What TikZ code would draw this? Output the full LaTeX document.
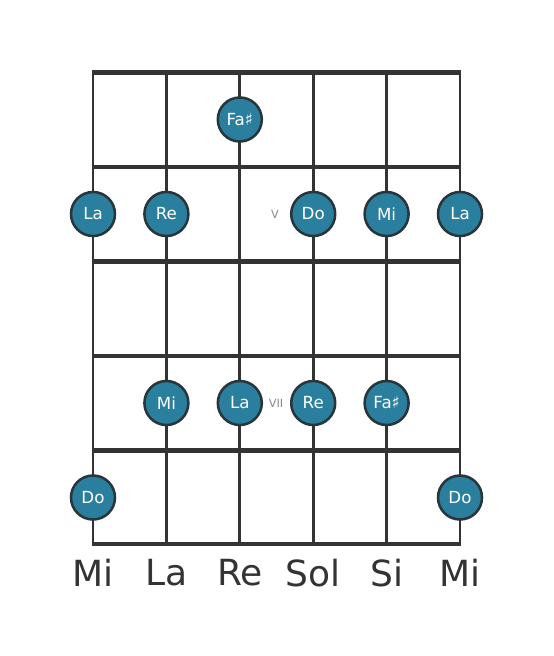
\documentclass[tikz,border=0pt]{standalone}
\usepackage{fontspec}
\setmainfont{DejaVu Sans}
\usepackage{tikz}

\definecolor{notefill}{HTML}{2B7F9E}
\definecolor{noteline}{HTML}{28363B}
\definecolor{gridline}{HTML}{333333}
\definecolor{posgray}{HTML}{8A8A8A}

\tikzset{
  note/.style={circle, fill=notefill, draw=noteline, line width=1.9pt,
    minimum size=33pt, inner sep=0pt, text=white,
    font=\fontsize{12.5}{12.5}\selectfont},
  fretline/.style={draw=gridline, line width=3.6pt},
  stringline/.style={draw=gridline, line width=2pt},
  openname/.style={text=gridline, font=\fontsize{27}{27}\selectfont},
  posmark/.style={text=posgray, font=\fontsize{8.5}{8.5}\selectfont}
}

\begin{document}
\begin{tikzpicture}[x=0.75pt, y=-0.75pt]
  \useasboundingbox (0,0) rectangle (553,656);
  % strings
  \foreach \i in {0,...,5}
    \draw[stringline] ({93+73.4*\i},72) -- ({93+73.4*\i},545);
  % frets
  \foreach \j in {0,...,4}
    \draw[fretline] (92.2,{72.5+94.5*\j}) -- (460.8,{72.5+94.5*\j});
  \draw[fretline, line width=2.6pt] (92.2,544) -- (460.8,544);
  % open string names
  \foreach \t [count=\i from 0] in {Mi,La,Re,Sol,Si,Mi}
    \node[openname] (open-\i) at ({93+73.4*\i},573) {\t};
  % position marks
  \node[posmark] (pos-v) at (275,214) {V};
  \node[posmark] (pos-vii) at (276,403) {VII};
  % notes
  \foreach \s/\f/\t in {3/1/Fa♯,
      1/2/La, 2/2/Re, 4/2/Do, 5/2/Mi, 6/2/La,
      2/4/Mi, 3/4/La, 4/4/Re, 5/4/Fa♯,
      1/5/Do, 6/5/Do}
    \node[note] (n-\s-\f) at ({93+73.4*(\s-1)},{119.5+94.5*(\f-1)}) {\t};
\end{tikzpicture}
\end{document}
